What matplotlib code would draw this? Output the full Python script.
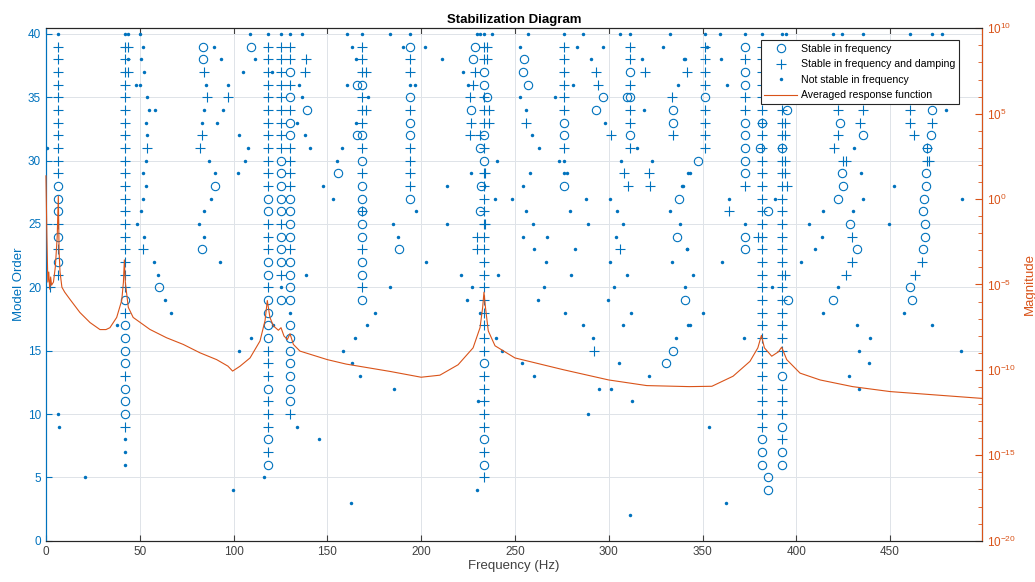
import matplotlib
matplotlib.use('Agg')
import matplotlib.pyplot as plt
from matplotlib.ticker import FixedLocator, NullFormatter, LogFormatterSciNotation
from matplotlib.lines import Line2D

plt.rcParams['font.family'] = ['Liberation Sans', 'DejaVu Sans']

BLUE = '#0072BD'
ORANGE = '#D95319'

# ---- stabilization columns: one mark per model order, 40 down to 1 ----
# 'o' stable in frequency, '+' stable in freq. and damping, '.' not stable, '-' none
col_freq = [6.6, 42.2, 118.2, 125.1, 130.1, 168.5, 194.0, 233.5,
            276.0, 311.4, 351.5, 372.5, 381.6, 392.4]
col_marks = [
    '.+++++++++++ooo+o+o+' + '-' * 20,
    '.' + '+' * 20 + 'o+oooo+ooo+...' + '-----',
    '.' + '+' * 12 + 'oo+++oo+oooo+++o+++o+o' + '-----',
    '.' + '+' * 9 + 'ooooo+ooo+.o' + '-' * 18,
    '.++o+o+oo++++oooo+oooo.ooooooo+' + '-' * 9,
    '.+++o+++o+o+ooooo+oo+o' + '-' * 18,
    '.o++.o+oo++++o' + '-' * 26,
    '.++oo+++o+o' + '+' * 15 + 'o' + '+' * 5 + 'o+o+' + '----',
    '.++++++oo+..o' + '-' * 27,
    '.++o+o++o+' + '-' * 30,
    '.++++o++++' + '-' * 30,
    '.o+oo++ooooo+--.oo' + '-' * 22,
    '.' + '+' * 31 + 'ooo' + '-----',
    '.' + '-----' + '+' * 21 + 'o+++o+oo' + '-----',
]

# ---- scattered poles outside the columns ----
circ_freq = [83.9, 83.9, 90.1, 83.2, 60.1, 109.2, 139.4, 155.5, 166.0, 166.0,
             188.4, 228.7, 227.5, 226.4, 231.4, 232.0, 231.4, 234.9,
             254.6, 254.3, 257.1, 297.1, 293.4, 309.5,
             334.5, 334.5, 337.7, 336.6, 347.8, 340.5, 334.5, 330.5,
             381.6, 380.7, 385.1, 385.1, 385.1, 394.9, 395.8, 392.2,
             423.3, 435.4, 424.3, 424.9, 422.4, 428.5, 432.5, 419.7,
             472.2, 471.6, 469.5, 469.0, 469.0, 468.3, 467.7, 468.6, 468.6,
             467.7, 460.7, 461.5]
circ_order = [39, 38, 28, 23, 20, 39, 34, 29, 36, 32,
              23, 39, 38, 34, 31, 28, 26, 35,
              38, 37, 36, 35, 34, 35,
              34, 33, 27, 24, 30, 19, 15, 14,
              33, 31, 26, 5, 4, 34, 19, 31,
              33, 32, 29, 28, 27, 25, 23, 19,
              34, 32, 31, 29, 28, 27, 26, 25, 24,
              23, 20, 19]

plus_freq = [2.1, 43.9, 43.9, 54.0, 51.6, 86.0, 97.2, 83.0, 82.1, 84.3,
             138.6, 138.1, 170.5, 170.5, 168.5,
             235.0, 235.0, 228.7, 227.8, 226.0, 236.3, 226.4, 236.3, 226.0,
             231.4, 234.2, 234.2, 229.6, 229.6, 255.9,
             293.2, 294.5, 301.0, 319.4, 308.4, 321.5, 310.4, 322.0, 306.0,
             292.2, 333.6, 334.1, 342.0, 364.3, 379.8,
             394.0, 394.0, 394.0, 394.0, 395.0, 394.0,
             422.4, 435.8, 434.0, 422.4, 420.3, 424.9, 426.3, 429.5, 429.5,
             426.5, 460.7, 460.7, 472.2, 462.5, 469.5, 469.5, 471.0, 466.8,
             463.2]
plus_order = [20, 39, 37, 31, 23, 35, 35, 32, 31, 37,
              38, 37, 37, 34, 26,
              39, 38, 37, 36, 35, 34, 33, 33, 32,
              32, 29, 25, 24, 23, 33,
              37, 36, 32, 37, 29, 29, 28, 28, 23,
              15, 35, 32, 37, 26, 24,
              33, 32, 30, 29, 28, 21,
              34, 34, 33, 32, 31, 30, 30, 24, 22,
              21, 34, 33, 33, 32, 31, 30, 30, 22,
              21]

dot_freq = [0.3, 43.5, 43.9, 38.0, 6.6, 7.1, 20.8,
            50.1, 51.5, 50.6, 52.4, 48.0, 50.3, 53.7, 55.1, 58.1, 53.1, 53.9,
            53.1, 51.9, 53.1, 51.9, 50.8, 48.3, 52.3, 57.6, 59.7, 63.4, 66.5,
            89.8, 93.1, 85.1, 96.9, 84.1, 94.6, 83.0, 91.2, 86.7, 90.1, 88.2,
            84.1, 81.6, 84.1, 92.8,
            108.8, 111.5, 104.9, 103.1, 107.9, 106.1, 102.4,
            120.5, 134.9, 136.7, 133.6, 138.3, 140.8, 138.6, 136.6, 120.9,
            109.3, 103.1, 134.0, 145.7, 116.3, 99.5, 158.5,
            160.3, 183.4, 163.0, 190.5, 202.1, 165.3, 211.0, 222.5, 160.3,
            196.7, 225.2, 171.9, 165.3, 157.6, 155.0, 147.8, 153.2, 226.6,
            214.0, 197.3, 185.2, 213.6, 187.9, 202.6, 221.1, 183.2, 227.3,
            224.6, 175.4, 171.0, 164.7, 163.0, 167.4, 185.7, 230.5, 229.6,
            162.5,
            229.6, 231.4, 237.6, 240.6, 239.4, 248.3, 239.9, 243.3, 231.4,
            256.8, 286.5, 306.0, 332.7, 252.7, 283.0, 297.1, 328.8, 290.4,
            317.6, 340.7, 281.2, 337.1, 252.7, 271.4, 255.7, 319.0, 298.0,
            258.9, 263.0, 314.9, 273.5, 306.4, 322.9, 258.0, 277.6, 342.5,
            254.1, 338.9, 287.9, 300.7, 255.7, 279.4, 304.3, 332.7, 259.5,
            289.2, 307.8, 338.0, 254.5, 267.3, 303.9, 260.2, 282.1, 341.6,
            266.4, 300.7, 333.6, 240.8, 279.9, 309.6, 265.7, 302.8, 340.7,
            262.1, 299.8, 276.7, 311.9, 286.5, 307.5, 342.5, 291.5, 335.7,
            253.6, 305.7, 260.2, 321.5, 295.0, 301.2, 312.6, 289.2, 311.4,
            359.3, 394.5, 419.3, 424.2, 435.4, 460.7, 472.6, 477.9, 352.2,
            340.2, 359.7, 362.9, 343.4, 339.5, 364.1, 388.6, 435.4, 488.2,
            414.4, 430.2, 406.6, 449.2, 413.9, 342.0, 409.8, 360.6, 402.7,
            344.8, 386.8, 422.0, 350.3, 414.3, 457.4, 343.5, 432.2, 472.6,
            372.2, 439.5, 433.3, 487.9, 439.0, 428.3, 433.3, 353.2, 362.5,
            479.7, 430.9, 434.5, 451.9]
dot_order = [31, 40, 38, 17, 10, 9, 5,
             40, 39, 38, 37, 36, 36, 35, 34, 34, 33, 32,
             30, 29, 28, 27, 26, 25, 24, 22, 21, 19, 18,
             39, 38, 36, 36, 34, 34, 33, 33, 30, 29, 27,
             26, 25, 24, 22,
             40, 38, 37, 32, 31, 30, 29,
             37, 36, 35, 33, 32, 31, 21, 40, 17,
             16, 15, 9, 8, 5, 4, 15,
             40, 40, 39, 39, 39, 38, 38, 37, 36,
             36, 36, 35, 33, 31, 30, 28, 27, 29,
             28, 26, 25, 25, 24, 22, 21, 20, 20,
             19, 18, 17, 16, 14, 13, 12, 11, 4,
             3,
             40, 40, 40, 30, 27, 27, 16, 15, 18,
             40, 40, 40, 40, 39, 39, 39, 39, 38,
             38, 38, 36, 36, 35, 35, 34, 34, 33,
             32, 31, 31, 30, 30, 30, 29, 29, 29,
             28, 28, 27, 27, 26, 26, 26, 26, 25,
             25, 25, 25, 24, 24, 24, 23, 23, 23,
             22, 22, 22, 21, 21, 21, 20, 20, 20,
             19, 19, 18, 18, 17, 17, 17, 16, 16,
             14, 14, 13, 13, 12, 12, 11, 10, 2,
             40, 40, 40, 40, 40, 40, 40, 40, 39,
             38, 38, 36, 29, 28, 27, 27, 27, 27,
             26, 26, 25, 25, 24, 23, 23, 22, 22,
             21, 20, 20, 18, 18, 18, 17, 17, 17,
             16, 16, 15, 15, 14, 13, 12, 9, 3,
             34, 31, 29, 28]

# ---- averaged response function (log10 magnitude) ----
resp_freq = [0, 0.5, 1.0, 1.5, 2.0, 2.5, 3.0, 4.0, 5.0, 6.0, 6.6, 7.0, 7.5,
             8.5, 10.0, 12.8, 18.1, 23.5, 28.8, 32.0, 34.1, 37.7, 40.4, 41.3,
             41.8, 42.3, 43.9, 46.5, 55.4, 64.3, 73.2, 82.1, 91.0, 97.0, 99.5,
             103.4, 108.8, 114.1, 116.8, 118.0, 119.4, 121.2, 123.9, 125.3,
             126.9, 128.7, 130.1, 131.9, 135.4, 150, 160, 183.4, 200, 210,
             219.7, 227.7, 231.4, 232.8, 233.5, 234.3, 235.8, 239.4, 250,
             275.8, 300, 320.3, 343, 355, 366.3, 375.3, 379.5, 381.4, 383.0,
             386.9, 390.5, 392.2, 394.9, 402, 412.7, 430, 450, 499]
resp_logmag = [1.36, -2.2, -4.86, -4.27, -5.28, -4.56, -5.04, -4.86, -3.97,
               -2.2, 0.17, -3.08, -4.27, -5.16, -5.45, -5.87, -6.64, -7.23,
               -7.64, -7.64, -7.53, -6.93, -5.93, -4.86, -3.56, -4.86, -6.34,
               -6.93, -7.63, -8.12, -8.51, -9.0, -9.40, -9.78, -10.07, -9.79,
               -9.30, -8.31, -7.11, -5.94, -6.93, -7.42, -7.68, -7.53, -8.02,
               -8.22, -7.88, -8.51, -8.90, -9.40, -9.66, -10.09, -10.43,
               -10.31, -9.70, -8.71, -7.53, -6.34, -5.45, -6.34, -7.72, -8.59,
               -9.30, -9.99, -10.59, -10.92, -10.98, -10.96, -10.37, -9.50,
               -8.71, -7.98, -8.71, -9.20, -8.94, -8.67, -9.40, -10.19,
               -10.59, -10.98, -11.27, -11.67]

# expand columns into point lists
for f, marks in zip(col_freq, col_marks):
    for i, ch in enumerate(marks):
        order = 40 - i
        if ch == 'o':
            circ_freq.append(f); circ_order.append(order)
        elif ch == '+':
            plus_freq.append(f); plus_order.append(order)
        elif ch == '.':
            dot_freq.append(f); dot_order.append(order)

fig = plt.figure(figsize=(10.35, 5.82), dpi=100)
ax = fig.add_axes([0.0444, 0.0710, 0.9044, 0.8804])
ax2 = ax.twinx()

ax.plot(circ_freq, circ_order, 'o', mfc='none', mec=BLUE, mew=0.8, ms=6, ls='none')
ax.plot(plus_freq, plus_order, '+', color=BLUE, mew=0.8, ms=7.5, ls='none')
ax.plot(dot_freq, dot_order, 'o', color=BLUE, mec='none', ms=2.5, ls='none')

ax2.semilogy(resp_freq, [10.0 ** v for v in resp_logmag], color=ORANGE, lw=0.8,
             zorder=3, clip_on=False)

ax.set_xlim(0, 499)
ax.set_ylim(0, 40.45)
ax.set_xticks(range(0, 500, 50))
ax.set_yticks(range(0, 41, 5))
ax.grid(True, color='#dfe3e8', linewidth=0.7)
ax.set_axisbelow(True)

ax2.set_ylim(1e-20, 1e10)
ax2.yaxis.set_major_locator(FixedLocator([10.0 ** k for k in range(-20, 11, 5)]))
ax2.yaxis.set_major_formatter(LogFormatterSciNotation())
ax2.yaxis.set_minor_locator(FixedLocator([10.0 ** k for k in range(-20, 11) if k % 5]))
ax2.yaxis.set_minor_formatter(NullFormatter())

ax.tick_params(axis='x', direction='in', top=True, labelsize=8.5,
               colors='#404040', length=4)
ax.tick_params(axis='y', direction='in', labelsize=8.5, colors=BLUE, length=4)
ax2.tick_params(axis='y', which='major', direction='in', labelsize=8.5,
                colors=ORANGE, length=5)
ax2.tick_params(axis='y', which='minor', direction='in', colors=ORANGE, length=3)

ax.spines['left'].set_color(BLUE)
ax2.spines['left'].set_color(BLUE)
ax2.spines['right'].set_color(ORANGE)
for a in (ax, ax2):
    a.spines['top'].set_color('#262626')
    a.spines['bottom'].set_color('#262626')
    for s in a.spines.values():
        s.set_linewidth(0.8)
        s.set_zorder(2)

ax.set_xlabel('Frequency (Hz)', fontsize=9.5, color='#404040', labelpad=2)
ax.set_ylabel('Model Order', fontsize=9.5, color=BLUE, labelpad=2)
ax2.set_ylabel('Magnitude', fontsize=9.5, color=ORANGE, labelpad=6)
ax.set_title('Stabilization Diagram', fontsize=9.5, fontweight='bold', pad=4)

handles = [
    Line2D([], [], marker='o', mfc='none', mec=BLUE, mew=0.8, ms=6, ls='none'),
    Line2D([], [], marker='+', color=BLUE, mew=0.8, ms=7.5, ls='none'),
    Line2D([], [], marker='o', color=BLUE, mec='none', ms=2.5, ls='none'),
    Line2D([], [], color=ORANGE, lw=0.8),
]
labels = ['Stable in frequency', 'Stable in frequency and damping',
          'Not stable in frequency', 'Averaged response function']
leg = ax2.legend(handles, labels, loc='upper right', bbox_to_anchor=(0.975, 0.977),
                 fontsize=7.6, fancybox=False, framealpha=1, edgecolor='#262626',
                 handlelength=3.1, handletextpad=0.35, borderpad=0.35,
                 labelspacing=0.52, borderaxespad=0)
leg.get_frame().set_linewidth(0.8)
leg.set_zorder(5)

fig.savefig('out.png', dpi=100)
